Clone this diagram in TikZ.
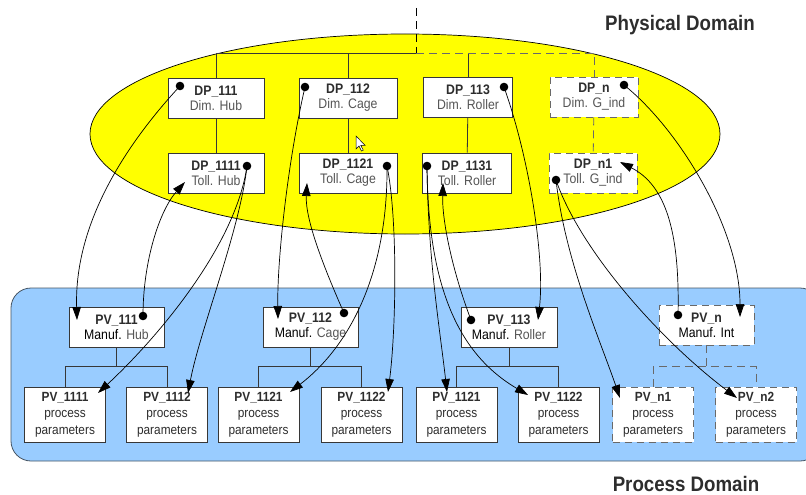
\documentclass[tikz,border=0pt]{standalone}
\usepackage{fontspec}
\setmainfont[FakeStretch=0.89]{Liberation Sans}
\usetikzlibrary{arrows.meta,calc}
\definecolor{ylw}{RGB}{255,255,0}
\definecolor{blu}{RGB}{153,204,255}
\definecolor{bord}{RGB}{55,55,55}
\definecolor{bluebord}{RGB}{70,85,100}
\definecolor{dtxt}{RGB}{45,45,45}
\definecolor{ltxt}{RGB}{85,85,85}
\definecolor{dashc}{RGB}{105,105,105}
\begin{document}
\begin{tikzpicture}[x=1pt,y=-1pt,
  box/.style={draw=bord,fill=white,line width=0.8pt,inner sep=0pt,align=center,
    minimum height=40pt,text=dtxt,font=\fontsize{13.8}{15}\selectfont},
  dbox/.style={box,draw=dashc,dash pattern=on 7pt off 5pt},
  pbox/.style={box,minimum width=81pt,minimum height=55pt,font=\fontsize{13.3}{16.5}\selectfont},
  conn/.style={line width=0.7pt,-{Triangle[length=13pt,width=8.5pt]}},
  tree/.style={draw=bord,line width=0.8pt},
  dtree/.style={draw=dashc,line width=0.8pt,dash pattern=on 8pt off 5pt},
  title/.style={font=\fontsize{21}{24}\selectfont\bfseries,text=dtxt}]
\useasboundingbox (0,0) rectangle (806,495);

% domains
\draw[fill=blu,draw=bluebord,line width=0.8pt,rounded corners=20pt] (11,288) rectangle (820,461);
\draw[fill=ylw,draw=black,line width=0.7pt] (405,134) ellipse [x radius=315pt, y radius=100pt];
\node[title] (phys) at (680,25) {Physical Domain};
\node[title] (proc) at (686,484) {Process Domain};

% physical domain nodes
\node[box,minimum width=96pt] (DP111) at (216,98) {\textbf{DP\_111}\\\color{ltxt}Dim. Hub};
\node[box,minimum width=98pt] (DP112) at (348,98) {\textbf{DP\_112}\\\color{ltxt}Dim. Cage};
\node[box,minimum width=89pt] (DP113) at (468,97) {\textbf{DP\_113}\\\color{ltxt}Dim. Roller};
\node[dbox,minimum width=88pt] (DPn) at (594,97) {\textbf{DP\_n}\\\color{ltxt}Dim. G\_ind};
\node[box,minimum width=96pt] (DP1111) at (216,173) {\textbf{DP\_1111}\\\color{ltxt}Toll. Hub};
\node[box,minimum width=98pt] (DP1121) at (348,173) {\textbf{DP\_1121}\\\color{ltxt}Toll. Cage};
\node[box,minimum width=89pt] (DP1131) at (467,173) {\textbf{DP\_1131}\\\color{ltxt}Toll. Roller};
\node[dbox,minimum width=88pt] (DPn1) at (593,173) {\textbf{DP\_n1}\\\color{ltxt}Toll. G\_ind};

% process domain nodes
\node[box,minimum width=95pt] (PV111) at (116.5,327) {\textbf{PV\_111}\\\textcolor{black}{Manuf.} \textcolor{ltxt}{Hub}};
\node[box,minimum width=95pt] (PV112) at (310.5,327) {\textbf{PV\_112}\\\textcolor{black}{Manuf.} \textcolor{ltxt}{Cage}};
\node[box,minimum width=96pt] (PV113) at (509,327) {\textbf{PV\_113}\\\textcolor{black}{Manuf.} \textcolor{ltxt}{Roller}};
\node[dbox,minimum width=95pt] (PVn) at (706.5,325) {\textbf{PV\_n}\\\textcolor{black}{Manuf. Int}};

\node[pbox] (PV1111) at (65,414.5) {\textbf{PV\_1111}\\process\\parameters};
\node[pbox] (PV1112) at (167,414.5) {\textbf{PV\_1112}\\process\\parameters};
\node[pbox] (PV1121) at (258.5,414.5) {\textbf{PV\_1121}\\process\\parameters};
\node[pbox] (PV1122) at (361.5,414.5) {\textbf{PV\_1122}\\process\\parameters};
\node[pbox] (PV1121b) at (456.5,414.5) {\textbf{PV\_1121}\\process\\parameters};
\node[pbox] (PV1122b) at (558.5,414.5) {\textbf{PV\_1122}\\process\\parameters};
\node[pbox,draw=dashc,dash pattern=on 7pt off 5pt] (PVn1) at (653,414.5) {\textbf{PV\_n1}\\process\\parameters};
\node[pbox,draw=dashc,dash pattern=on 7pt off 5pt] (PVn2) at (756,414.5) {\textbf{PV\_n2}\\process\\parameters};

% physical tree
\coordinate (root) at (416,8);
\coordinate (bar) at (416,53);
\draw[dtree,draw=black] (root) -- (bar);
\draw[tree] (DP111.north) |- (bar);
\draw[tree] (DP112.north) -- (DP112.north |- bar);
\draw[tree] (DP113.north) -- (DP113.north |- bar);
\draw[dtree] (bar) -| (DPn.north);
\draw[tree] (DP111) -- (DP1111);
\draw[tree] (DP112) -- (DP1121);
\draw[tree] (DP113) -- (DP1131);
\draw[dtree] (DPn) -- (DPn1);

% process trees
\draw[tree] (PV111.south) -- ++(0,20);
\draw[tree] (PV1111.north) -- ++(0,-20) -| (PV1112.north);
\draw[tree] (PV112.south) -- ++(0,20);
\draw[tree] (PV1121.north) -- ++(0,-20) -| (PV1122.north);
\draw[tree] (PV113.south) -- ++(0,20);
\draw[tree] (PV1121b.north) -- ++(0,-20) -| (PV1122b.north);
\draw[dtree] (PVn.south) -- ++(0,22);
\draw[dtree] (PVn1.north) -- ++(0,-20) -| (PVn2.north);

% mouse cursor
\draw[fill=white,line width=0.5pt] (356,136) -- ++(0,13) -- ++(3,-3) -- ++(2.5,5) -- ++(1.8,-0.8) -- ++(-2.5,-4.8) -- ++(4.3,0) -- cycle;

% connector end points
\coordinate (a1) at ($(DP111)+(-36,-12)$);
\coordinate (a2) at ($(DP1111)+(31,-7)$);
\coordinate (a3) at ($(DP112)+(-43,-11)$);
\coordinate (a4) at ($(DP1121)+(39,-7)$);
\coordinate (a5) at ($(DP113)+(36,-10)$);
\coordinate (a6) at ($(DP1131)+(-40,-7)$);
\coordinate (a7) at ($(DPn)+(30,-12)$);
\coordinate (a8) at ($(DPn1)+(-37,7)$);
\coordinate (b1) at ($(PV111)+(26.5,-11)$);
\coordinate (b2) at ($(PV112)+(33.5,-14)$);
\coordinate (b3) at ($(PV113)+(-38,-7)$);
\coordinate (b4) at ($(PVn)+(-28.5,-10)$);

\coordinate (t1) at ($(PV111)+(-39.5,-7)$);
\coordinate (t2) at ($(PV1111)+(33,-21.5)$);
\coordinate (t3) at ($(PV1112)+(21,-21.5)$);
\coordinate (t4) at ($(DP1111)+(-31,9)$);
\coordinate (t5) at ($(PV112)+(-32.5,-8)$);
\coordinate (t6) at ($(DP1121)+(-41,10)$);
\coordinate (t7) at ($(PV1121)+(31.5,-22.5)$);
\coordinate (t8) at ($(PV1122)+(26.5,-22.5)$);
\coordinate (t9) at ($(PV113)+(29,-7)$);
\coordinate (t10) at ($(DP1131)+(-24,10)$);
\coordinate (t11) at ($(PV1121b)+(-9.5,-22.5)$);
\coordinate (t12) at ($(PV1122b)+(-30.5,-19.5)$);
\coordinate (t13) at ($(PVn)+(33.5,-8)$);
\coordinate (t14) at ($(DPn1)+(27,-11)$);
\coordinate (t15) at ($(PVn1)+(-33,-16.5)$);
\coordinate (t16) at ($(PVn2)+(-19,-16.5)$);

% connectors
\draw[conn] (a1) .. controls (130,140) and (74,220) .. (t1);
\draw[conn] (a2) .. controls (235,250) and (150,345) .. (t2);
\draw[conn] (a2) .. controls (240,230) and (200,330) .. (t3);
\draw[conn] (b1) .. controls (143,260) and (160,210) .. (t4);
\draw[conn] (a3) .. controls (288,160) and (277,260) .. (t5);
\draw[conn] (b2) .. controls (325,270) and (305,220) .. (t6);
\draw[conn] (a4) .. controls (388,280) and (345,350) .. (t7);
\draw[conn] (a4) .. controls (398,220) and (396,330) .. (t8);
\draw[conn] (a5) .. controls (530,160) and (545,260) .. (t9);
\draw[conn] (b3) .. controls (452,270) and (442,220) .. (t10);
\draw[conn] (a6) .. controls (428,260) and (440,330) .. (t11);
\draw[conn] (a6) .. controls (428,290) and (460,355) .. (t12);
\draw[conn] (a7) .. controls (680,130) and (740,230) .. (t13);
\draw[conn] (b4) .. controls (680,230) and (665,185) .. (t14);
\draw[conn] (a8) .. controls (565,260) and (600,340) .. (t15);
\draw[conn] (a8) .. controls (580,250) and (660,340) .. (t16);

% tail dots
\foreach \p in {a1,a2,a3,a4,a5,a6,a7,a8,b1,b2,b3,b4}
  \fill (\p) circle (4.3pt);
\end{tikzpicture}
\end{document}
